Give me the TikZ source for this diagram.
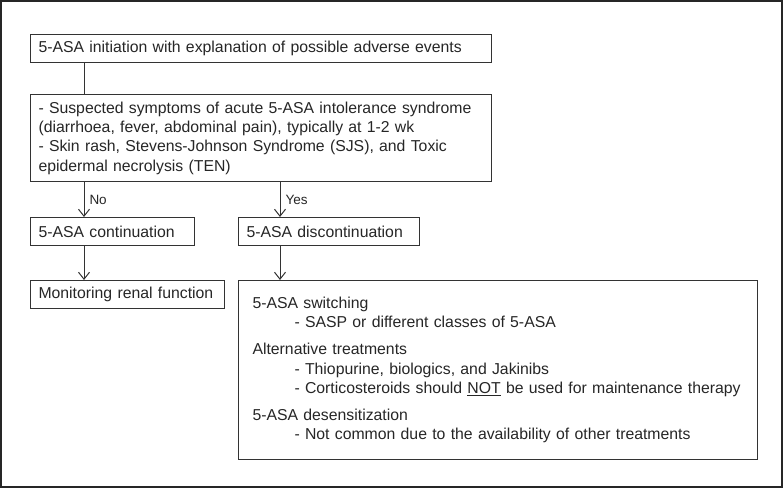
\documentclass[tikz,border=0pt]{standalone}
\usepackage{fontspec}
\setmainfont{Liberation Sans}
\usetikzlibrary{arrows.meta,positioning}

\tikzset{
  box/.style={draw=black!80, line width=1pt, text=black!85, align=left, inner xsep=8pt, inner ysep=0pt, minimum height=28pt, anchor=north west},
  arr/.style={draw=black!80, line width=1pt, -{Straight Barb[length=7pt,width=11pt]}},
  lbl/.style={text=black!85, font=\fontsize{13.5}{15}\selectfont, right, inner xsep=5pt}
}

\begin{document}
\begin{tikzpicture}[x=1pt,y=1pt,font=\fontsize{15.8}{19.3}\selectfont]
\useasboundingbox (0,0) rectangle (783,-488);
\draw[black!85, line width=1.3pt] (1,-1) rectangle (782,-487);

\node[box, text width=445pt] (init) at (30,-34) {5-ASA initiation with explanation of possible adverse events};
\node[box, text width=445pt, minimum height=87pt, below=31pt of init.south west, anchor=north west] (sympt) {- Suspected symptoms of acute 5-ASA intolerance syndrome\\(diarrhoea, fever, abdominal pain), typically at 1-2 wk\\- Skin rash, Stevens-Johnson Syndrome (SJS), and Toxic\\epidermal necrolysis (TEN)};
\node[box, text width=148pt, below=35pt of sympt.south west, anchor=north west] (cont) {5-ASA continuation};
\node[box, text width=165pt, right=43pt of cont.north east, anchor=north west] (discont) {5-ASA discontinuation};
\node[box, text width=178pt, below=34pt of cont.south west, anchor=north west] (renal) {Monitoring renal function};
\node[box, text width=491pt, inner xsep=14pt, minimum height=179pt, below=34pt of discont.south west, anchor=north west] (alt) {5-ASA switching\\
\hspace*{42pt}- SASP or different classes of 5-ASA\\[8pt]
Alternative treatments\\
\hspace*{42pt}- Thiopurine, biologics, and Jakinibs\\
\hspace*{42pt}- Corticosteroids should \underline{NOT} be used for maintenance therapy\\[8pt]
5-ASA desensitization\\
\hspace*{42pt}- Not common due to the availability of other treatments};

\coordinate (nox) at ([xshift=54pt]init.south west);
\coordinate (yesx) at ([xshift=42pt]discont.north west);

\draw[draw=black!80, line width=1pt] (nox) -- (sympt.north -| nox);
\draw[arr] (sympt.south -| nox) -- node[lbl] {No} (cont.north -| nox);
\draw[arr] (sympt.south -| yesx) -- node[lbl] {Yes} (yesx);
\draw[arr] (cont.south -| nox) -- (renal.north -| nox);
\draw[arr] (discont.south -| yesx) -- (alt.north -| yesx);
\end{tikzpicture}
\end{document}
